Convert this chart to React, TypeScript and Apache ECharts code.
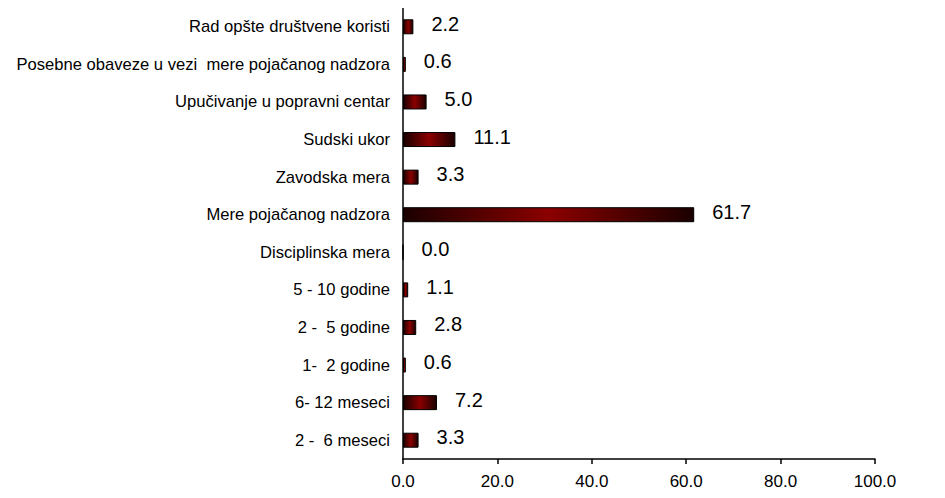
import React, { useEffect, useRef } from "react";
import * as echarts from "echarts";

const categories = [
  "2 -  6 meseci",
  "6- 12 meseci",
  "1-  2 godine",
  "2 -  5 godine",
  "5 - 10 godine",
  "Disciplinska mera",
  "Mere pojačanog nadzora",
  "Zavodska mera",
  "Sudski ukor",
  "Upučivanje u popravni centar",
  "Posebne obaveze u vezi  mere pojačanog nadzora",
  "Rad opšte društvene koristi",
];
const values = [3.3, 7.2, 0.6, 2.8, 1.1, 0.0, 61.7, 3.3, 11.1, 5.0, 0.6, 2.2];
const xTicks = { min: 0, max: 100, interval: 20 };

export default function App() {
  const ref = useRef<HTMLDivElement>(null);
  useEffect(() => {
    if (!ref.current) return;
    const chart = echarts.init(ref.current, null, { renderer: "svg" });
    chart.setOption({
      animation: false,
      grid: { left: 395, right: 62, top: -2, bottom: 29, containLabel: false },
      xAxis: {
        type: "value",
        min: xTicks.min,
        max: xTicks.max,
        interval: xTicks.interval,
        splitLine: { show: false },
        axisLine: { show: true, lineStyle: { color: "#000", width: 1.5 } },
        axisTick: { show: true, length: 5, lineStyle: { color: "#000", width: 1.5 } },
        axisLabel: {
          formatter: (v: number) => v.toFixed(1),
          color: "#000",
          fontSize: 17,
          fontFamily: "Liberation Sans, Arial, sans-serif",
          margin: 14,
        },
      },
      yAxis: {
        type: "category",
        data: categories,
        axisLine: { show: true, lineStyle: { color: "#000", width: 1.5 } },
        axisTick: { show: false },
        axisLabel: {
          color: "#000",
          fontSize: 16.6,
          fontFamily: "Liberation Sans, Arial, sans-serif",
          margin: 13,
        },
      },
      series: [
        {
          type: "bar",
          data: values,
          barWidth: 15,
          itemStyle: {
            borderColor: "#000",
            borderWidth: 1,
            color: new echarts.graphic.LinearGradient(0, 0, 1, 0, [
              { offset: 0, color: "#1a0000" },
              { offset: 0.5, color: "#8b0000" },
              { offset: 1, color: "#1a0000" },
            ]),
          },
          label: {
            show: true,
            position: "right",
            distance: 18,
            offset: [0, -3],
            formatter: (p: any) => Number(p.value).toFixed(1),
            color: "#000",
            fontSize: 20,
            fontFamily: "Liberation Sans, Arial, sans-serif",
          },
        },
      ],
    });
    return () => chart.dispose();
  }, []);
  return <div ref={ref} style={{ width: 929, height: 482 }} />;
}
